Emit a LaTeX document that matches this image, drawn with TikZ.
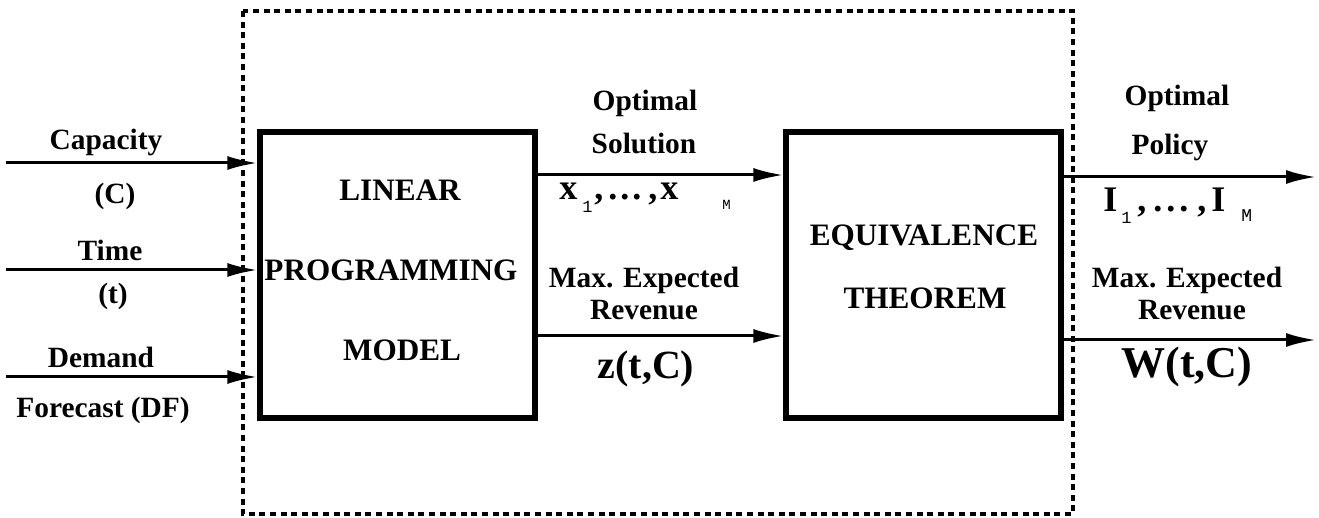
\documentclass[tikz,border=0pt]{standalone}
\usepackage{fontspec}
\setmainfont{Liberation Serif}
\setmonofont{Liberation Mono}
\usetikzlibrary{arrows.meta}
\newcommand{\fs}[1]{\fontsize{#1}{#1}\selectfont}
\tikzset{
  lbl/.style={inner sep=0pt, font=\fs{14.7}\bfseries, align=center},
  boxtxt/.style={inner sep=0pt, font=\fs{15.6}\bfseries},
  block/.style={draw, line width=2.6pt, minimum width=137.5pt, minimum height=143pt, inner sep=0pt},
  arr/.style={line width=1.5pt, -{Latex[length=15pt,width=7pt]}},
  frame/.style={line width=1.9pt, dash pattern=on 3pt off 2.3pt},
  piece/.style={inner sep=0pt, anchor=base west},
  bigx/.style={piece, font=\fs{18}\bfseries},
  bigi/.style={piece, font=\fs{18}\bfseries},
  idx/.style={piece, font=\fs{8.5}\ttfamily}
}
\begin{document}
\begin{tikzpicture}[x=0.5pt,y=-0.5pt]
\useasboundingbox (0,0) rectangle (1319,518);
% dotted system boundary
\draw[frame] (243,11) rectangle (1073,514);
% blocks
\node[block] (lp) at (397.5,275) {};
\node[block] (eq) at (923.5,275) {};
\node[boxtxt] (lp1) at (400,190) {LINEAR};
\node[boxtxt] (lp2) at (391,270) {PROGRAMMING};
\node[boxtxt] (lp3) at (402,350) {MODEL};
\node[boxtxt] (eq1) at (924,238) {EQUIVALENCE};
\node[boxtxt] (eq2) at (925,298) {THEOREM};
% input levels
\coordinate (inC) at (6,163);
\coordinate (inT) at (6,270);
\coordinate (inD) at (6,377);
\draw[arr] (inC) -- (lp.west |- inC);
\draw[arr] (inT) -- (lp.west |- inT);
\draw[arr] (inD) -- (lp.west |- inD);
\node[lbl] (cap) at (106,142) {Capacity};
\node[lbl] (capc) at (115,196) {(C)};
\node[lbl] (tim) at (110,250) {Time};
\node[lbl] (timt) at (113,296) {(t)};
\node[lbl] (dem) at (101,357) {Demand};
\node[lbl] (fcs) at (103,410) {Forecast (DF)};
% between the blocks
\coordinate (ySol) at (0,175);
\coordinate (yRev) at (0,336);
\draw[arr] (lp.east |- ySol) -- (eq.west |- ySol);
\draw[arr] (lp.east |- yRev) -- (eq.west |- yRev);
\node[lbl] (os1) at (645,103) {Optimal};
\node[lbl] (os2) at (644,143) {Solution};
% x_1, ..., x_M
\node[bigx] (xa) at (559,200) {x};
\node[idx] (xa1) at (582,213) {1};
\node[bigx] (xc1) at (594,200) {,};
\node[bigx] (xd) at (608,200) {.\kern1.5pt.\kern1.5pt.};
\node[bigx] (xc2) at (648,200) {,};
\node[bigx] (xb) at (660,200) {x};
\node[idx, font=\fs{7}\ttfamily] (xbm) at (722,210) {M};
\node[lbl] (mr1) at (644,280) {Max. Expected};
\node[lbl] (mr2) at (644,310) {Revenue};
\node[inner sep=0pt] (zr) at (646,369) {\fs{20}\bfseries z(t,C)};
% outputs
\coordinate (oP) at (1316,177);
\coordinate (oW) at (1316,340);
\draw[arr] (eq.east |- oP) -- (oP);
\draw[arr] (eq.east |- oW) -- (oW);
\node[lbl] (op1) at (1177,98) {Optimal};
\node[lbl] (op2) at (1170,147) {Policy};
% I_1, ..., I_M
\node[bigi] (ia) at (1103,212) {I};
\node[idx] (ia1) at (1121,224) {1};
\node[bigi] (ic1) at (1137,212) {,};
\node[bigi] (id) at (1153,212) {.\kern2pt.\kern2pt.};
\node[bigi] (ic2) at (1197,212) {,};
\node[bigi] (ib) at (1211,212) {I};
\node[idx, font=\fs{9}\ttfamily] (ibm) at (1241,222) {M};
\node[lbl] (mw1) at (1187,280) {Max. Expected};
\node[lbl] (mw2) at (1192,310) {Revenue};
\node[inner sep=0pt] (wr) at (1187,367) {\fs{22}\bfseries W(t,C)};
\end{tikzpicture}
\end{document}
